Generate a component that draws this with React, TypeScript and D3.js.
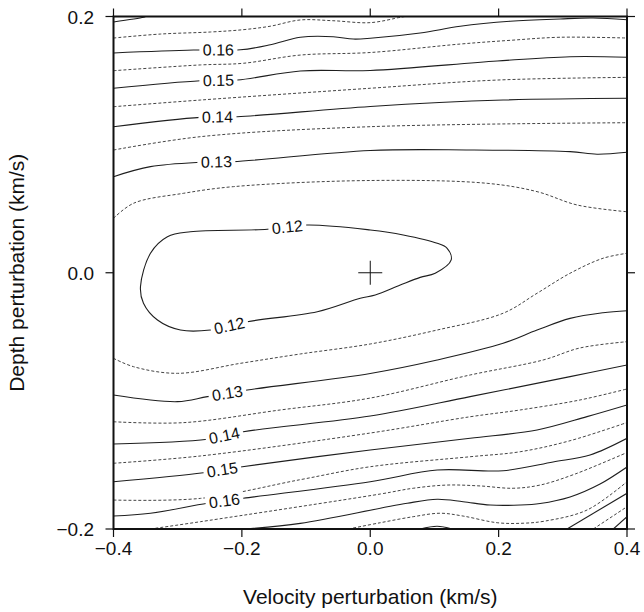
import React from 'react';
import * as d3 from 'd3';

type P = [number, number];

// x: velocity perturbation (km/s), y: depth perturbation (km/s)
const xTicks = [-0.4, -0.2, 0.0, 0.2, 0.4];
const yTicks = [-0.2, 0.0, 0.2];

// Contour polylines (upper half)
const c170Top: P[] = [[-0.4, 0.1957], [-0.3533, 0.1994], [-0.35, 0.2]];
const c165Top: P[] = [[-0.4, 0.1832], [-0.327, 0.1863], [-0.249, 0.1879], [-0.198, 0.1897], [-0.156, 0.1924], [-0.109, 0.1973], [-0.058, 0.1967], [0, 0.1952], [0.047, 0.1994], [0.054, 0.2]];
const c160Top: P[] = [[-0.4, 0.1715], [-0.2755, 0.1738], [-0.2023, 0.174], [-0.1556, 0.178], [-0.109, 0.1838], [-0.0576, 0.1842], [-0.0265, 0.1824], [0, 0.183], [0.0778, 0.1871], [0.1401, 0.1924], [0.2179, 0.1963], [0.2957, 0.1981], [0.3471, 0.1988], [0.4, 0.1975]];
const c155Top: P[] = [[-0.4, 0.1577], [-0.2646, 0.1622], [-0.1977, 0.1635], [-0.109, 0.1699], [0, 0.1719], [0.1401, 0.1785], [0.2179, 0.1814], [0.2957, 0.1838], [0.4, 0.1832]];
const c150Top: P[] = [[-0.4, 0.144], [-0.2646, 0.1499], [-0.207, 0.1504], [-0.109, 0.1575], [0, 0.1579], [0.1977, 0.1653], [0.3113, 0.1686], [0.4, 0.1682]];
const c145Top: P[] = [[-0.4, 0.1296], [-0.2646, 0.1348], [0, 0.144], [0.1977, 0.1504], [0.4, 0.1525]];
const c140Top: P[] = [[-0.4, 0.114], [-0.2646, 0.1213], [-0.207, 0.1218], [0, 0.1298], [0.207, 0.1348], [0.4, 0.1362]];
const c135Top: P[] = [[-0.4, 0.0958], [-0.2646, 0.1062], [0, 0.114], [0.4, 0.1171]];
const c130Top: P[] = [[-0.4, 0.075], [-0.3424, 0.0828], [-0.2646, 0.0862], [-0.2132, 0.0867], [0, 0.0954], [0.1556, 0.0958], [0.3113, 0.0945], [0.3533, 0.0925], [0.4, 0.094]];
const c125Top: P[] = [[-0.4, 0.0425], [-0.3689, 0.0542], [-0.2911, 0.062], [-0.2132, 0.0672], [0, 0.072], [0.1821, 0.0698], [0.2599, 0.0633], [0.3222, 0.0529], [0.4, 0.0476]];

// Closed 0.12 contour around the minimum
const c120Loop: P[] = [[0.1261, 0.01], [0.1198, 0.0191], [0.1043, 0.023], [0.0514, 0.0295], [0, 0.0334], [-0.0981, 0.0373], [-0.1603, 0.0339], [-0.2802, 0.032], [-0.316, 0.0281], [-0.3424, 0.0152], [-0.358, -0.0109], [-0.3533, -0.0238], [-0.3315, -0.0369], [-0.2957, -0.0447], [-0.249, -0.0447], [-0.1914, -0.0382], [-0.0825, -0.0304], [-0.0156, -0.0199], [0.0078, -0.0174], [0.0467, -0.0096], [0.0778, -0.0036], [0.1012, -0.0004]];

// Lower half
const c125Bot: P[] = [[-0.4, -0.0668], [-0.3689, -0.0733], [-0.3004, -0.0785], [-0.2023, -0.0707], [-0.109, -0.0634], [0, -0.0556], [0.1043, -0.0447], [0.207, -0.0316], [0.2599, -0.016], [0.3113, -0.0004], [0.3626, 0.0113], [0.4, 0.0152]];
const c130Bot: P[] = [[-0.4, -0.0954], [-0.3004, -0.1006], [-0.2537, -0.0967], [-0.1914, -0.0915], [0, -0.0786], [0.1043, -0.0681], [0.207, -0.0551], [0.2599, -0.0447], [0.3113, -0.0356], [0.3626, -0.0312], [0.4, -0.0296]];
const c135Bot: P[] = [[-0.4, -0.1163], [-0.2911, -0.117], [-0.1401, -0.1071], [0, -0.0978], [0.1556, -0.0798], [0.2693, -0.0681], [0.3268, -0.0587], [0.4, -0.0538]];
const c140Bot: P[] = [[-0.4, -0.1337], [-0.2537, -0.13], [-0.1977, -0.1241], [0, -0.1118], [0.1556, -0.0967], [0.3113, -0.0811], [0.4, -0.072]];
const c145Bot: P[] = [[-0.4, -0.1487], [-0.2646, -0.143], [0, -0.1251], [0.1556, -0.1124], [0.2335, -0.1071], [0.3268, -0.0993], [0.4, -0.0907]];
const c150Bot: P[] = [[-0.4, -0.1631], [-0.2599, -0.1561], [-0.1992, -0.1514], [0, -0.1383], [0.1556, -0.1292], [0.2599, -0.1227], [0.3377, -0.1123], [0.4, -0.1032]];
const c155Bot: P[] = [[-0.4, -0.1774], [-0.2646, -0.1761], [-0.109, -0.1615], [0, -0.1514], [0.1556, -0.1436], [0.2335, -0.1397], [0.3113, -0.1311], [0.4, -0.1169]];
const c160Bot: P[] = [[-0.4, -0.1899], [-0.3424, -0.1877], [-0.2537, -0.1799], [-0.1977, -0.176], [0, -0.1631], [0.1043, -0.154], [0.207, -0.1545], [0.2848, -0.1477], [0.3424, -0.1422], [0.4, -0.1292]];
const c165Bot: P[] = [[-0.3424, -0.2], [-0.2646, -0.1943], [0.0156, -0.1727], [0.0669, -0.1682], [0.1198, -0.1657], [0.1712, -0.1664], [0.2226, -0.1682], [0.2646, -0.1657], [0.3191, -0.1571], [0.4, -0.1403]];
const c170Bot: P[] = [[-0.1946, -0.2], [-0.109, -0.1956], [0.0156, -0.1838], [0.0576, -0.1799], [0.1043, -0.1768], [0.1447, -0.1787], [0.1868, -0.1813], [0.2335, -0.1813], [0.2646, -0.1801], [0.3113, -0.175], [0.358, -0.1649], [0.4, -0.1516]];
const c175Bot: P[] = [[-0.0342, -0.2], [0.0156, -0.1951], [0.0669, -0.1904], [0.1089, -0.1877], [0.1447, -0.1899], [0.1977, -0.1951], [0.2381, -0.1955], [0.2724, -0.1938], [0.3377, -0.1852], [0.4, -0.1631]];
const c180Bump: P[] = [[0.0778, -0.2], [0.1043, -0.1979], [0.1276, -0.2]];
const c180Bot: P[] = [[0.3066, -0.2], [0.4, -0.1721]];
const c185Bot: P[] = [[0.3475, -0.2], [0.4, -0.1826]];
const c190Bot: P[] = [[0.3787, -0.2], [0.4, -0.1904]];

const solidLines: P[][] = [c170Top, c160Top, c150Top, c140Top, c130Top, c130Bot, c140Bot, c150Bot, c160Bot, c170Bot, c180Bump, c180Bot, c190Bot];
const dashedLines: P[][] = [c165Top, c155Top, c145Top, c135Top, c125Top, c125Bot, c135Bot, c145Bot, c155Bot, c165Bot, c175Bot, c185Bot];

const labelTexts = ['0.16', '0.15', '0.14', '0.13', '0.12', '0.12', '0.13', '0.14', '0.15', '0.16'];
const labelXs = [-0.2366, -0.2366, -0.238, -0.2397, -0.1292, -0.2195, -0.2226, -0.2272, -0.2304, -0.2272];
const labelLines: P[][] = [c160Top, c150Top, c140Top, c130Top, c120Loop, c120Loop, c130Bot, c140Bot, c150Bot, c160Bot];
const labelBranch = [0, 0, 0, 0, 0, 1, 0, 0, 0, 0];

const FONT = "'Liberation Sans', Arial, Helvetica, sans-serif";

export default function App() {
  const x = d3.scaleLinear().domain([-0.4, 0.4]).range([113.5, 627]);
  const y = d3.scaleLinear().domain([-0.2, 0.2]).range([529, 16.5]);
  const line = d3.line<P>().x(d => x(d[0])).y(d => y(d[1])).curve(d3.curveCatmullRom.alpha(0.5));
  const loop = d3.line<P>().x(d => x(d[0])).y(d => y(d[1])).curve(d3.curveCatmullRomClosed.alpha(0.5));
  const [x0, x1] = x.range();
  const [y1, y0] = y.range();

  const labels = labelTexts.map((t, i) => {
    const pts = labelLines[i];
    const lx = labelXs[i];
    const closed = pts === c120Loop;
    const segs: [P, P][] = [];
    const n = closed ? pts.length : pts.length - 1;
    for (let k = 0; k < n; k++) {
      const a = pts[k], b = pts[(k + 1) % pts.length];
      if ((lx - a[0]) * (lx - b[0]) <= 0 && a[0] !== b[0]) segs.push([a, b]);
    }
    const [a, b] = segs[Math.min(labelBranch[i], segs.length - 1)];
    const f = (lx - a[0]) / (b[0] - a[0]);
    const ly = a[1] + f * (b[1] - a[1]);
    let ang = Math.atan2(y(b[1]) - y(a[1]), x(b[0]) - x(a[0])) * 180 / Math.PI;
    if (ang > 90) ang -= 180;
    if (ang < -90) ang += 180;
    return { t, px: x(lx), py: y(ly), ang };
  });

  const fmt = d3.format('.1f');

  return (
    <svg width={644} height={612} style={{ position: 'absolute', left: 0, top: 0, background: '#fff' }} fontFamily={FONT}>
      <defs>
        <clipPath id="plotclip">
          <rect x={x0} y={y0} width={x1 - x0} height={y1 - y0} />
        </clipPath>
      </defs>
      <rect x={0} y={0} width={644} height={612} fill="#fff" />
      <g clipPath="url(#plotclip)">
        {dashedLines.map((pts, i) => (
          <path key={'d' + i} d={line(pts) || ''} fill="none" stroke="#444" strokeWidth={1} strokeDasharray="3,2" />
        ))}
        {solidLines.map((pts, i) => (
          <path key={'s' + i} d={line(pts) || ''} fill="none" stroke="#1e1e1e" strokeWidth={1.1} />
        ))}
        <path d={loop(c120Loop) || ''} fill="none" stroke="#1e1e1e" strokeWidth={1.1} />
        {labels.map((l, i) => (
          <g key={'l' + i} transform={`translate(${l.px},${l.py}) rotate(${l.ang})`}>
            <rect x={-19} y={-8} width={38} height={16} fill="#fff" />
            <text textAnchor="middle" dominantBaseline="central" fontSize={16} fill="#111">{l.t}</text>
          </g>
        ))}
        <line x1={x(0) - 12} x2={x(0) + 12} y1={y(0)} y2={y(0)} stroke="#111" strokeWidth={1} />
        <line x1={x(0)} x2={x(0)} y1={y(0) - 12} y2={y(0) + 12} stroke="#111" strokeWidth={1} />
      </g>
      <rect x={x0} y={y0} width={x1 - x0} height={y1 - y0} fill="none" stroke="#111" strokeWidth={2} />
      {xTicks.map(v => (
        <g key={'xt' + v}>
          <line x1={x(v)} x2={x(v)} y1={y1} y2={y1 + 8} stroke="#111" strokeWidth={1.2} />
          <line x1={x(v)} x2={x(v)} y1={y0} y2={y0 - 8} stroke="#111" strokeWidth={1.2} />
          <text x={x(v)} y={555} textAnchor="middle" fontSize={19} fill="#111">{fmt(v)}</text>
        </g>
      ))}
      {yTicks.map(v => (
        <g key={'yt' + v}>
          <line x1={x0} x2={x0 - 8} y1={y(v)} y2={y(v)} stroke="#111" strokeWidth={1.2} />
          <line x1={x1} x2={x1 + 8} y1={y(v)} y2={y(v)} stroke="#111" strokeWidth={1.2} />
          <text x={94} y={y(v) + 7} textAnchor="end" fontSize={19} fill="#111">{fmt(v)}</text>
        </g>
      ))}
      <text x={(x0 + x1) / 2} y={604} textAnchor="middle" fontSize={21} fill="#111">Velocity perturbation (km/s)</text>
      <text transform={`translate(24,${(y0 + y1) / 2}) rotate(-90)`} textAnchor="middle" fontSize={21} fill="#111">Depth perturbation (km/s)</text>
    </svg>
  );
}
